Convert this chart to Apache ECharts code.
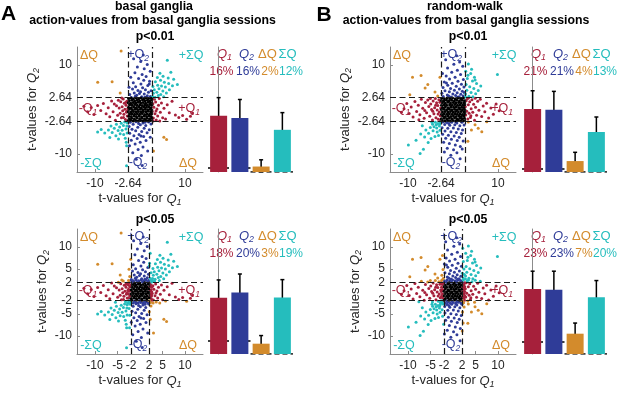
<!DOCTYPE html>
<html>
<head>
<meta charset="utf-8">
<script src="https://cdn.jsdelivr.net/npm/echarts@6/dist/echarts.min.js"></script>
<style>
  html, body { margin: 0; padding: 0; background: #fff; }
  #main { width: 617px; height: 393px; }
</style>
</head>
<body>
<div id="main"></div>
<script>
// t-values for Q1 / Q2 (same neurons in both rows)
const coreA = [
  [-2.55,2.45],[-2.0,2.55],[-1.45,2.4],[-0.85,2.58],[-0.3,2.42],[0.25,2.55],[0.8,2.38],[1.35,2.6],[1.9,2.45],[2.5,2.52],
  [-2.4,1.95],[-1.8,2.1],[-1.2,1.9],[-0.65,2.05],[-0.05,1.92],[0.55,2.12],[1.1,1.98],[1.65,2.08],[2.2,1.9],[2.58,2.15],
  [-2.6,1.5],[-2.05,1.42],[-1.5,1.58],[-0.95,1.45],[-0.4,1.6],[0.15,1.48],[0.7,1.55],[1.25,1.4],[1.8,1.6],[2.35,1.5],
  [-2.3,1.05],[-1.75,0.95],[-1.15,1.1],[-0.6,0.98],[0.0,1.05],[0.5,0.92],[1.05,1.08],[1.6,0.96],[2.15,1.1],[2.6,0.95],
  [-2.55,0.5],[-1.95,0.42],[-1.4,0.58],[-0.8,0.45],[-0.25,0.55],[0.3,0.4],[0.85,0.58],[1.4,0.48],[1.95,0.55],[2.45,0.42],
  [-2.35,0.05],[-1.7,-0.05],[-1.1,0.08],[-0.55,-0.02],[0.05,0.06],[0.6,-0.08],[1.15,0.03],[1.7,-0.06],[2.25,0.08],[2.62,-0.1],
  [-2.6,-0.48],[-2.0,-0.56],[-1.45,-0.42],[-0.9,-0.55],[-0.35,-0.45],[0.2,-0.58],[0.75,-0.44],[1.3,-0.52],[1.85,-0.4],[2.4,-0.57],
  [-2.3,-1.02],[-1.75,-0.94],[-1.2,-1.08],[-0.6,-0.96],[-0.05,-1.05],[0.5,-0.92],[1.05,-1.1],[1.6,-0.98],[2.15,-1.06],[2.58,-0.95],
  [-2.5,-1.5],[-1.95,-1.58],[-1.35,-1.44],[-0.8,-1.56],[-0.2,-1.46],[0.35,-1.6],[0.9,-1.48],[1.45,-1.55],[2.0,-1.42],[2.5,-1.58],
  [-2.4,-2.05],[-1.85,-1.95],[-1.25,-2.1],[-0.7,-1.92],[-0.1,-2.06],[0.45,-1.96],[1.0,-2.12],[1.55,-1.98],[2.1,-2.08],[2.6,-1.94],
  [-2.58,-2.5],[-2.05,-2.42],[-1.5,-2.56],[-0.95,-2.45],[-0.4,-2.6],[0.15,-2.44],[0.7,-2.55],[1.25,-2.4],[1.8,-2.58],[2.35,-2.47]
];
const outerA = [
  // left band
  [-2.71,0.22],[-2.84,-1.47],[-2.93,1.83],[-3.02,-0.61],[-3.11,0.97],[-3.24,-2.24],[-3.36,0.08],[-3.49,1.41],[-3.58,-1.08],[-3.72,2.37],
  [-3.85,-0.27],[-3.97,0.63],[-4.12,-1.86],[-4.28,1.72],[-4.41,-0.82],[-4.63,0.35],[-4.81,2.06],[-4.97,-1.31],[-5.22,0.84],[-5.46,-2.42],
  [-5.71,1.24],[-5.98,-0.48],[-6.31,1.91],[-6.72,-1.64],[-7.06,0.41],[-7.53,-0.93],[-8.14,1.37],[-8.72,-0.22],[-9.41,0.91],[-10.24,-1.12],
  [-10.83,0.46],[-11.62,-0.53],[-12.47,0.71],[-2.77,-2.51],[-3.18,1.56],[-3.66,-1.77],[-2.9,-0.37],[-4.05,2.58],
  // right band
  [2.72,-0.42],[2.86,1.27],[2.97,-1.93],[3.08,0.51],[3.22,2.28],[3.34,-0.93],[3.47,1.66],[3.61,-2.37],[3.77,0.13],[3.93,-1.46],
  [4.11,0.94],[4.29,2.47],[4.52,-0.64],[4.77,1.43],[5.04,-1.82],[5.33,0.27],[5.68,-2.11],[6.05,1.08],[6.51,-0.71],[7.12,1.86],
  [7.86,-1.23],[8.62,-1.79],[9.47,-1.34],[10.36,-2.18],[11.21,-1.52],[11.68,-0.81],[2.78,2.41],[3.55,-0.31],[2.91,-2.58],[4.39,-2.6],
  // upper column
  [0.37,2.83],[-1.91,2.71],[1.62,3.06],[-0.74,3.22],[2.31,2.92],[0.95,3.47],[-2.28,3.38],[-1.28,3.71],[0.12,3.95],[1.88,3.84],
  [-0.46,4.27],[1.21,4.41],[-1.67,4.62],[2.46,4.18],[0.58,4.85],[-2.44,4.96],[-0.97,5.12],[1.73,5.38],[0.21,5.71],[-1.49,6.02],
  [2.12,6.33],[0.83,6.58],[-0.32,6.97],[-2.06,7.24],[1.36,7.41],[0.47,7.86],[-1.13,8.22],[2.27,8.57],[0.94,9.13],[-0.58,9.52],
  [1.61,10.07],[0.16,10.74],[-1.42,11.38],[0.72,12.21],[1.09,2.77],[-0.12,3.58],[-1.04,2.98],[2.05,5.72],
  // lower column
  [-2.17,-2.86],[-0.88,-2.74],[0.64,-3.02],[1.93,-2.79],[-1.52,-3.31],[0.07,-3.44],[1.28,-3.58],[2.44,-3.27],[-2.41,-3.83],[-0.49,-3.97],
  [0.92,-4.18],[-1.77,-4.41],[2.06,-4.52],[-0.96,-4.77],[0.38,-4.93],[1.57,-5.21],[-2.28,-5.34],[-0.21,-5.58],[-1.36,-5.89],[0.81,-6.07],
  [2.29,-6.24],[-0.63,-6.51],[-1.94,-6.88],[1.34,-6.96],[0.05,-7.32],[-1.08,-7.71],[-2.33,-8.13],[0.67,-8.38],[-0.42,-8.94],[1.71,-9.27],
  [-1.61,-9.68],[0.31,-10.31],[-0.83,-11.14],[0.49,-12.52],[1.12,-2.88],[-0.31,-3.12],[0.22,-5.95],
  // upper right
  [2.81,2.93],[3.36,2.77],[4.07,3.14],[2.96,3.62],[3.74,3.89],[4.61,3.37],[5.27,2.86],[3.18,4.41],[4.22,4.63],[5.08,4.12],
  [5.86,3.71],[2.87,5.14],[3.93,5.46],[4.78,5.27],[5.64,5.02],[6.53,4.44],[3.42,6.21],[4.56,6.53],[5.41,6.12],[6.38,5.84],
  [7.21,5.33],[3.86,7.18],[5.12,7.46],[6.27,7.04],[7.48,6.77],[4.43,8.12],[6.86,8.34],[6.07,11.02],[8.31,5.62],
  // lower left
  [-2.83,-2.96],[-3.41,-2.78],[-4.17,-3.08],[-2.92,-3.71],[-3.68,-3.56],[-4.53,-3.94],[-5.24,-3.31],[-3.13,-4.38],[-3.97,-4.62],[-4.86,-4.71],
  [-5.71,-4.22],[-6.44,-3.67],[-2.86,-5.27],[-3.62,-5.58],[-4.41,-5.43],[-5.36,-5.86],[-6.18,-5.17],[-7.02,-4.58],[-7.84,-5.26],[-8.63,-4.46],
  [-3.27,-6.42],[-4.78,-6.61],[-3.06,-7.34],[-2.97,-8.12],[-2.99,-12.6],[-9.42,-5.05],[-6.71,-6.28],
  // opposite-sign quadrants
  [-4.2,13.1],[-9.4,6.1],[-6.2,6.2],[-4.4,3.7],[5.3,-6.2],[5.9,-6.7],[3.0,-9.3]
];
const coreB = [
  [-2.5,2.5],[-1.9,2.42],[-1.3,2.58],[-0.7,2.45],[-0.1,2.55],[0.5,2.4],[1.1,2.57],[1.7,2.44],[2.3,2.56],
  [-2.6,2.0],[-2.05,1.9],[-1.45,2.08],[-0.9,1.95],[-0.3,2.1],[0.3,1.92],[0.85,2.05],[1.45,1.9],[2.0,2.1],[2.55,1.98],
  [-2.35,1.55],[-1.75,1.42],[-1.15,1.6],[-0.55,1.48],[0.05,1.57],[0.65,1.44],[1.25,1.58],[1.85,1.46],[2.45,1.52],
  [-2.55,0.98],[-1.95,1.08],[-1.4,0.94],[-0.75,1.05],[-0.2,0.95],[0.4,1.1],[1.0,0.97],[1.55,1.06],[2.15,0.93],[2.6,1.04],
  [-2.3,0.45],[-1.7,0.56],[-1.05,0.42],[-0.5,0.55],[0.15,0.48],[0.7,0.58],[1.3,0.43],[1.9,0.52],[2.4,0.47],
  [-2.6,-0.02],[-2.0,0.06],[-1.4,-0.08],[-0.8,0.04],[-0.25,-0.06],[0.35,0.07],[0.95,-0.04],[1.5,0.05],[2.1,-0.07],[2.6,0.02],
  [-2.35,-0.55],[-1.75,-0.44],[-1.15,-0.58],[-0.55,-0.46],[0.05,-0.56],[0.6,-0.42],[1.2,-0.54],[1.8,-0.47],[2.4,-0.58],
  [-2.55,-1.05],[-1.95,-0.95],[-1.35,-1.08],[-0.8,-0.97],[-0.2,-1.06],[0.4,-0.94],[0.95,-1.07],[1.55,-0.98],[2.1,-1.1],[2.6,-0.96],
  [-2.3,-1.46],[-1.7,-1.57],[-1.1,-1.44],[-0.5,-1.55],[0.1,-1.47],[0.7,-1.58],[1.3,-1.45],[1.85,-1.56],[2.45,-1.48],
  [-2.6,-2.05],[-2.0,-1.95],[-1.4,-2.08],[-0.85,-1.96],[-0.25,-2.06],[0.35,-1.93],[0.9,-2.1],[1.5,-1.98],[2.05,-2.07],[2.55,-1.95],
  [-2.4,-2.45],[-1.8,-2.57],[-1.2,-2.44],[-0.6,-2.56],[0.0,-2.48],[0.6,-2.58],[1.2,-2.43],[1.75,-2.55],[2.35,-2.5]
];
const outerB = [
  // left band
  [-2.73,0.34],[-2.82,-1.41],[-2.91,1.62],[-3.04,-0.58],[-3.13,2.21],[-3.26,-2.17],[-3.38,0.87],[-3.52,-0.12],[-3.64,1.49],[-3.79,-1.83],
  [-3.93,2.44],[-4.08,0.41],[-4.24,-0.96],[-4.41,1.88],[-4.57,-2.36],[-4.76,0.02],[-4.94,1.21],[-5.16,-1.52],[-5.38,0.69],[-5.61,2.13],
  [-5.87,-0.74],[-6.13,1.57],[-6.41,-1.96],[-6.72,0.28],[-7.03,2.31],[-7.36,-1.19],[-7.71,0.93],[-8.08,-0.47],[-8.46,1.78],[-8.87,-1.68],
  [-9.29,0.54],[-9.74,-0.91],[-10.27,1.36],[-10.88,0.17],[-11.46,-0.63],[-2.78,-2.46],[-3.31,-1.03],[-3.85,0.96],[-4.49,-0.38],[-5.04,2.49],
  [-6.27,-0.21],[-7.58,-2.27],
  // right band
  [2.74,0.61],[2.83,-1.22],[2.94,1.96],[3.06,-0.37],[3.17,2.42],[3.29,-2.14],[3.41,1.04],[3.57,-0.86],[3.72,1.71],[3.88,-1.77],
  [4.03,0.19],[4.21,2.16],[4.39,-0.64],[4.58,1.18],[4.79,-2.41],[5.01,0.52],[5.24,-1.27],[5.48,1.83],[5.76,-0.17],[6.06,2.29],
  [6.38,-1.58],[6.71,0.79],[7.07,-0.52],[7.46,1.42],[7.92,-1.93],[8.41,0.33],[8.97,-1.04],[9.58,1.21],[10.26,-0.28],[3.44,2.56],
  [3.97,-1.38],[4.94,2.53],
  // upper column
  [-0.42,2.79],[1.36,2.86],[-2.16,2.93],[0.58,3.11],[2.27,3.04],[-1.27,3.27],[-0.03,3.49],[1.74,3.42],[-2.47,3.66],[0.93,3.78],
  [-0.81,3.97],[2.08,4.09],[-1.78,4.21],[0.31,4.34],[1.42,4.58],[-0.54,4.71],[-2.21,4.93],[2.43,5.02],[0.72,5.19],[-1.16,5.41],
  [1.87,5.63],[-0.17,5.88],[-1.93,6.14],[1.11,6.32],[2.31,6.71],[-0.76,6.86],[0.46,7.23],[-1.52,7.51],[1.68,7.84],[-2.34,8.06],
  [-0.28,8.37],[0.97,8.82],[-1.21,9.28],[2.16,9.67],[0.19,10.11],[-1.63,11.16],[1.47,10.64],[0.81,12.03],[-0.96,3.02],[1.02,2.74],
  [2.52,3.83],[-1.46,5.96],
  // lower column
  [-2.26,-2.78],[-1.37,-2.91],[-0.29,-2.84],[0.86,-3.03],[1.98,-2.87],[-1.84,-3.37],[-0.72,-3.52],[0.41,-3.41],[1.52,-3.66],[2.47,-3.46],
  [-2.43,-4.06],[-1.16,-4.22],[0.08,-4.13],[1.17,-4.38],[2.12,-4.61],[-1.78,-4.83],[-0.47,-4.97],[0.73,-5.14],[1.84,-5.36],[-2.31,-5.52],
  [-1.03,-5.77],[0.26,-5.91],[1.38,-6.19],[-1.62,-6.43],[-0.36,-6.68],[0.94,-6.92],[2.26,-7.08],[-2.08,-7.33],[-0.81,-7.61],[0.51,-7.94],
  [1.63,-8.31],[-1.27,-8.67],[0.12,-9.03],[2.04,-8.86],[-1.91,-9.52],[0.87,-9.71],[-0.48,-10.24],[1.58,-11.03],[0.64,-2.77],[-0.93,-3.14],
  // upper right
  [3.41,10.17],[9.87,7.83],[2.82,8.57],[3.93,8.04],[4.77,7.21],[3.18,6.93],[4.34,6.38],[5.23,5.81],[2.91,5.62],[3.72,5.08],
  [4.63,4.72],[5.61,4.27],[3.07,4.31],[4.02,3.82],[2.79,3.47],[3.53,2.97],[4.42,2.88],[5.04,3.53],[2.76,2.81],[6.17,5.24],
  [3.31,7.68],[4.13,9.02],[4.91,6.63],
  // lower left
  [-2.81,-2.79],[-3.34,-3.12],[-3.92,-2.88],[-4.53,-3.31],[-3.02,-3.72],[-3.63,-4.14],[-4.21,-3.87],[-5.04,-4.02],[-2.88,-4.63],[-3.51,-5.04],
  [-4.43,-4.77],[-5.42,-5.31],[-6.03,-4.58],[-3.22,-5.83],[-4.01,-6.04],[-4.87,-6.52],[-6.31,-6.17],[-7.18,-5.46],[-5.52,-7.41],[-9.92,-7.93],
  [-7.31,-9.88],[-6.57,-8.92],[-8.21,-6.87],[-3.71,-3.43],[-2.93,-3.21],[-4.68,-2.83],[-6.82,-3.64],
  // opposite-sign quadrants
  [-9.0,7.2],[-7.1,7.6],[-2.9,7.2],[-5.6,5.6],[-4.0,3.9],[-3.4,3.0],[-9.6,3.3],[-6.2,4.8],
  [3.4,-2.8],[4.9,-3.4],[7.5,-2.75],[5.6,-4.2],[4.1,-4.6],[6.4,-5.0],[3.3,-7.1]
];
const ptsA = coreA.concat(outerA);
const ptsB = coreB.concat(outerB);

const thresholds = [2.64, 2];
const xTicks = [[-10, -2.64, 10], [-10, -5, -2, 2, 5, 10]];
const yTicks = [[-10, -2.64, 2.64, 10], [-10, -5, -2, 2, 5, 10]];

// bar panels: Q1, Q2, dQ, sumQ
const barA1 = [18.0, 17.3, 1.75, 13.5], loA1 = [11.7, 11.3, 0.1, 8.1], hiA1 = [23.8, 23.2, 3.9, 19.0], chanceA1 = [1.3, 0];
const barA2 = [18.0, 19.7, 3.3, 18.1], loA2 = [12.6, 14.2, 0.3, 12.6], hiA2 = [23.7, 25.6, 5.9, 23.8], chanceA2 = [4.3, 0];
const barB1 = [20.2, 19.9, 3.5, 12.8], loB1 = [14.4, 14.1, 0.7, 8.0], hiB1 = [26.0, 25.8, 6.3, 17.6], chanceB1 = [1.15, 0];
const barB2 = [20.8, 20.6, 6.5, 18.2], loB2 = [15.2, 15.2, 3.0, 12.8], hiB2 = [26.5, 26.5, 9.9, 23.5], chanceB2 = [4.0, 0];
const pctA1 = ['16%', '16%', '2%', '12%'];
const pctA2 = ['18%', '20%', '3%', '19%'];
const pctB1 = ['21%', '21%', '4%', '13%'];
const pctB2 = ['23%', '23%', '7%', '20%'];

const FF = '"Liberation Sans", Arial, sans-serif';
const C = { q1: '#a6203b', q2: '#2f3c98', dq: '#d38b2c', sq: '#25bdbd', core: '#000000' };
const AX = '#8c8c8c';

function classify(pts, t) {
  const g = { q1: [], q2: [], sq: [], dq: [], core: [] };
  pts.forEach(p => {
    const ax = Math.abs(p[0]) > t, ay = Math.abs(p[1]) > t;
    if (ax && ay) (p[0] * p[1] > 0 ? g.sq : g.dq).push(p);
    else if (ax) g.q1.push(p);
    else if (ay) g.q2.push(p);
    else g.core.push(p);
  });
  return g;
}

function rich(color, size, italicQ) {
  return {
    n: { fill: color, color: color, fontSize: size, fontFamily: FF, lineHeight: 16 },
    q: { fill: color, color: color, fontSize: size, fontFamily: FF, fontStyle: italicQ ? 'italic' : 'normal', lineHeight: 16 },
    s: { fill: color, color: color, fontSize: size * 0.68, fontFamily: FF, fontStyle: 'italic', lineHeight: 6, verticalAlign: 'bottom' }
  };
}

function txt(x, y, text, st) {
  return {
    type: 'text', x: x, y: y, silent: true,
    style: Object.assign({
      text: text, fill: '#000', fontFamily: FF, fontSize: 12,
      textAlign: 'center', textVerticalAlign: 'middle', align: 'center', verticalAlign: 'middle'
    }, st)
  };
}

const panels = [
  { pts: ptsA, row: 0, sx: 77, top: 47, bx: 208, bars: barA1, lo: loA1, hi: hiA1, chance: chanceA1, pct: pctA1, ygap: 36 },
  { pts: ptsA, row: 1, sx: 77, top: 229, bx: 208, bars: barA2, lo: loA2, hi: hiA2, chance: chanceA2, pct: pctA2, ygap: 26 },
  { pts: ptsB, row: 0, sx: 390, top: 47, bx: 522, bars: barB1, lo: loB1, hi: hiB1, chance: chanceB1, pct: pctB1, ygap: 37 },
  { pts: ptsB, row: 1, sx: 390, top: 229, bx: 522, bars: barB2, lo: loB2, hi: hiB2, chance: chanceB2, pct: pctB2, ygap: 27 }
];

const grid = [], xAxis = [], yAxis = [], series = [], elements = [];
const barColors = [C.q1, C.q2, C.dq, C.sq];
const nameRich = {
  q: { fontSize: 13, fontStyle: 'italic', fontFamily: FF, color: '#262626', lineHeight: 16 },
  s: { fontSize: 9, fontStyle: 'italic', fontFamily: FF, color: '#262626', lineHeight: 6, verticalAlign: 'bottom' }
};

panels.forEach((p, k) => {
  const gi = 2 * k, bi = 2 * k + 1, t = thresholds[p.row];
  grid.push({ left: p.sx, top: p.top, width: 126, height: 125, outerBoundsMode: 'none' });
  grid.push({ left: p.bx, top: p.top, width: 85, height: 125, outerBoundsMode: 'none' });

  xAxis.push({
    gridIndex: gi, type: 'value', min: -14, max: 14,
    axisLine: { show: true, onZero: false, lineStyle: { color: AX } },
    splitLine: { show: false },
    axisTick: { show: true, inside: true, length: 3, customValues: xTicks[p.row], lineStyle: { color: AX } },
    axisLabel: { customValues: xTicks[p.row], color: '#262626', fontSize: 12, fontFamily: FF, margin: 6 },
    name: 't-values for {q|Q}{s|1}', nameLocation: 'middle', nameGap: 18,
    nameTextStyle: { fontSize: 13, fontFamily: FF, color: '#262626', lineHeight: 16, rich: nameRich }
  });
  yAxis.push({
    gridIndex: gi, type: 'value', min: -14, max: 14,
    axisLine: { show: true, onZero: false, lineStyle: { color: AX } },
    splitLine: { show: false },
    axisTick: { show: true, inside: true, length: 3, customValues: yTicks[p.row], lineStyle: { color: AX } },
    axisLabel: { customValues: yTicks[p.row], color: '#262626', fontSize: 12, fontFamily: FF, margin: 5 },
    name: 't-values for {q|Q}{s|2}', nameLocation: 'middle', nameGap: p.ygap,
    nameTextStyle: { fontSize: 13, fontFamily: FF, color: '#262626', lineHeight: 16, rich: nameRich }
  });
  xAxis.push({ gridIndex: bi, type: 'value', min: -0.5, max: 3.5, show: false });
  yAxis.push({
    gridIndex: bi, type: 'value', min: 0, max: 40,
    axisLine: { show: true, lineStyle: { color: AX } },
    axisTick: { show: false }, axisLabel: { show: false }, splitLine: { show: false }
  });

  const g = classify(p.pts, t);
  ['q1', 'q2', 'sq', 'dq', 'core'].forEach(key => {
    const s = {
      type: 'scatter', xAxisIndex: gi, yAxisIndex: gi, data: g[key], symbolSize: 3,
      itemStyle: { color: C[key], opacity: 1 }, silent: true
    };
    if (key === 'core') {
      s.markLine = {
        silent: true, symbol: ['none', 'none'], label: { show: false },
        lineStyle: { color: '#1a1a1a', type: [6, 3.5], width: 1.2 },
        data: [{ xAxis: -t }, { xAxis: t }, { yAxis: -t }, { yAxis: t }]
      };
    }
    series.push(s);
  });

  series.push({
    type: 'bar', xAxisIndex: bi, yAxisIndex: bi, barWidth: 17, silent: true,
    data: p.bars.map((v, i) => ({ value: [i, v], itemStyle: { color: barColors[i] } }))
  });
  series.push({
    type: 'custom', xAxisIndex: bi, yAxisIndex: bi, silent: true,
    data: p.bars.map((v, i) => [i, p.lo[i], p.hi[i]]),
    encode: { x: 0, y: [1, 2] },
    renderItem: (params, api) => {
      const a = api.coord([api.value(0), api.value(1)]);
      const b = api.coord([api.value(0), api.value(2)]);
      const st = { stroke: '#000', lineWidth: 1.5 };
      return {
        type: 'group', children: [
          { type: 'line', shape: { x1: a[0], y1: a[1], x2: b[0], y2: b[1] }, style: st },
          { type: 'line', shape: { x1: a[0] - 2, y1: a[1], x2: a[0] + 2, y2: a[1] }, style: st },
          { type: 'line', shape: { x1: b[0] - 2, y1: b[1], x2: b[0] + 2, y2: b[1] }, style: st }
        ]
      };
    }
  });
  series.push({
    type: 'lines', coordinateSystem: 'cartesian2d', xAxisIndex: bi, yAxisIndex: bi, silent: true,
    lineStyle: { color: '#000', type: [5, 3], width: 1.6, opacity: 1 },
    data: [
      { coords: [[-0.5, p.chance[0]], [1.5, p.chance[0]]] },
      { coords: [[1.5, p.chance[1]], [3.5, p.chance[1]]] }
    ]
  });

  // region labels inside the scatter
  const L = [
    [12, 9, '{n|ΔQ}', C.dq], [61, 8, '{n|+Q}{s|2}', C.q2], [114, 9, '{n|+ΣQ}', C.sq],
    [11, 62, '{n|-Q}{s|1}', C.q1], [112, 62, '{n|+Q}{s|1}', C.q1],
    [14, 117, '{n|-ΣQ}', C.sq], [61, 116, '{n|-Q}{s|2}', C.q2], [111, 117, '{n|ΔQ}', C.dq]
  ];
  L.forEach(l => elements.push(txt(p.sx + l[0], p.top + l[1], l[2], { rich: rich(l[3], 12.5, false), fill: l[3] })));

  // bar legend and percentages
  const qx = [16.5, 38.5, 59.5, 79.5];
  const px = [13.5, 40, 62, 83];
  const qt = ['{q|Q}{s|1}', '{q|Q}{s|2}', '{n|ΔQ}', '{n|ΣQ}'];
  qt.forEach((q, i) => elements.push(txt(p.bx + qx[i], p.top + 7, q, { rich: rich(barColors[i], 13, true), fill: barColors[i] })));
  p.pct.forEach((s, i) => elements.push(txt(p.bx + px[i], p.top + 25, s, { fill: barColors[i], fontSize: 12 })));
});

// headings
const bold = { fontWeight: 'bold', fontSize: 12.3 };
elements.push(txt(8.5, 14.5, 'A', { fontWeight: 'bold', fontSize: 21 }));
elements.push(txt(324, 15, 'B', { fontWeight: 'bold', fontSize: 21 }));
elements.push(txt(154, 7, 'basal ganglia', bold));
elements.push(txt(465, 7, 'random-walk', bold));
elements.push(txt(152.5, 21, 'action-values from basal ganglia sessions', bold));
elements.push(txt(466, 21, 'action-values from basal ganglia sessions', bold));
elements.push(txt(155, 37, 'p<0.01', bold));
elements.push(txt(468, 37, 'p<0.01', bold));
elements.push(txt(155, 220, 'p<0.05', bold));
elements.push(txt(468, 220, 'p<0.05', bold));

const chart = echarts.init(document.getElementById('main'));
chart.setOption({
  animation: false,
  backgroundColor: '#fff',
  grid: grid,
  xAxis: xAxis,
  yAxis: yAxis,
  series: series,
  graphic: { elements: elements }
});
</script>
</body>
</html>
